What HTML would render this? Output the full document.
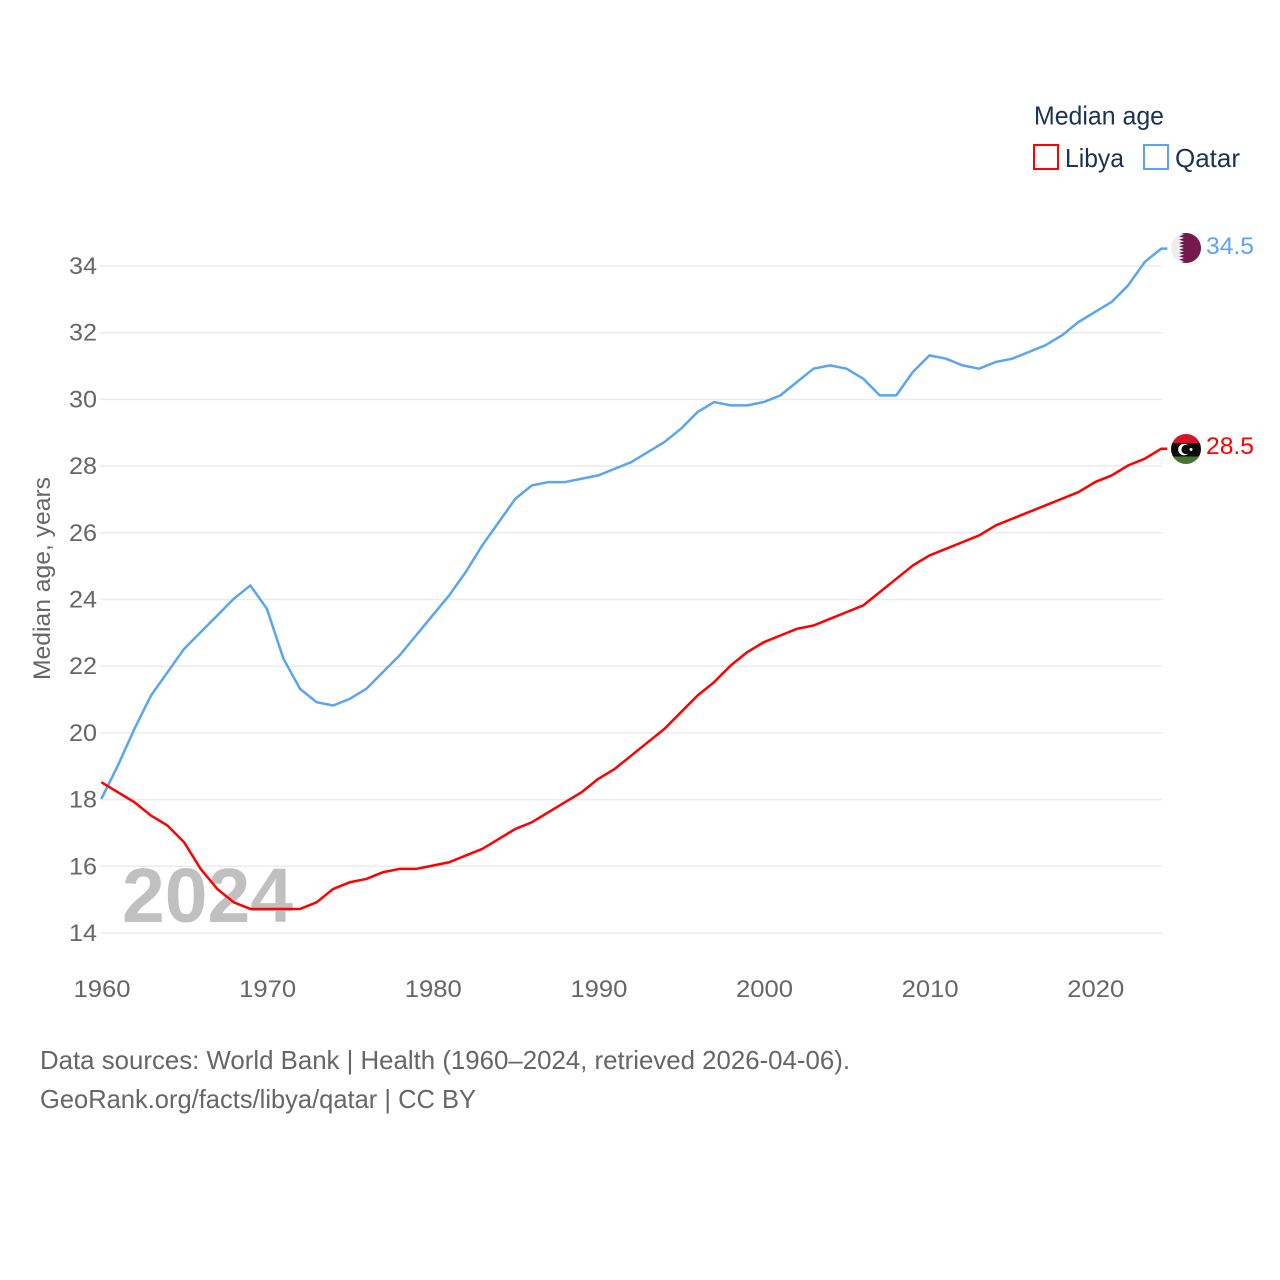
<!DOCTYPE html>
<html lang="en">
<head>
<meta charset="utf-8">
<title>Median age: Libya and Qatar</title>
<style>
html,body{margin:0;padding:0;background:#fff;}
svg{display:block;}
text{font-family:"Liberation Sans",sans-serif;}
</style>
</head>
<body>
<svg id="chart" xmlns="http://www.w3.org/2000/svg" width="1280" height="1280" viewBox="0 0 1280 1280">
  <rect width="1280" height="1280" fill="#fff"/>
  <g id="grid"></g>
  <text x="122" y="922" font-size="77" font-weight="bold" fill="#c0c0c0" textLength="171" lengthAdjust="spacingAndGlyphs">2024</text>
  <g id="yticks"></g>
  <g id="xticks"></g>
  <text transform="translate(50 680) rotate(-90)" font-size="24" fill="#666" textLength="203" lengthAdjust="spacingAndGlyphs">Median age, years</text>
  <g id="series" transform="translate(-0.7 -0.7)"></g>

  <defs>
    <clipPath id="flag-clip-qatar"><circle cx="1186" cy="248" r="15"/></clipPath>
    <clipPath id="flag-clip-libya"><circle cx="1186" cy="449" r="15"/></clipPath>
  </defs>
  <g clip-path="url(#flag-clip-qatar)">
    <rect x="1171" y="233" width="30" height="30" fill="#ededed"/>
    <polygon fill="#74184d" points="1201,233 1179,233 1184,234.700 1179,236.300 1184,238 1179,239.700 1184,241.300 1179,243 1184,244.700 1179,246.300 1184,248 1179,249.700 1184,251.300 1179,253 1184,254.700 1179,256.300 1184,258 1179,259.700 1184,261.300 1179,263 1201,263"/>
  </g>
  <g clip-path="url(#flag-clip-libya)">
    <rect x="1171" y="434" width="30" height="10" fill="#d6132a"/>
    <rect x="1171" y="443" width="30" height="13.500" fill="#0a0a0a"/>
    <rect x="1171" y="456.500" width="30" height="9" fill="#47752f"/>
    <circle cx="1184" cy="449.500" r="5.800" fill="#fff"/>
    <circle cx="1186" cy="449.500" r="4.600" fill="#0a0a0a"/>
    <circle cx="1191" cy="449.500" r="1.500" fill="#fff"/>
  </g>
  <text x="1206" y="254" font-size="24" fill="#5aa5ef" textLength="48" lengthAdjust="spacingAndGlyphs">34.5</text>
  <text x="1206" y="454" font-size="24" fill="#ff0000" textLength="48" lengthAdjust="spacingAndGlyphs">28.5</text>

  <g>
    <text x="1034" y="124.500" font-size="26" fill="#1a3354" textLength="130" lengthAdjust="spacingAndGlyphs">Median age</text>
    <rect x="1034" y="145" width="24" height="24" fill="#fff" stroke="#ff0000" stroke-width="2"/>
    <text x="1065" y="167" font-size="26" fill="#1a3354" textLength="59" lengthAdjust="spacingAndGlyphs">Libya</text>
    <rect x="1144" y="145" width="24" height="24" fill="#fff" stroke="#5aa5ef" stroke-width="2"/>
    <text x="1175" y="167" font-size="26" fill="#1a3354" textLength="65" lengthAdjust="spacingAndGlyphs">Qatar</text>
  </g>

  <g>
    <text x="40" y="1069" font-size="26" fill="#666" textLength="810" lengthAdjust="spacingAndGlyphs">Data sources: World Bank | Health (1960–2024, retrieved 2026-04-06).</text>
    <text x="40" y="1108" font-size="26" fill="#666" textLength="436" lengthAdjust="spacingAndGlyphs">GeoRank.org/facts/libya/qatar | CC BY</text>
  </g>
</svg>
<script>
const years = [1960,1961,1962,1963,1964,1965,1966,1967,1968,1969,1970,1971,1972,1973,1974,1975,1976,1977,1978,1979,1980,1981,1982,1983,1984,1985,1986,1987,1988,1989,1990,1991,1992,1993,1994,1995,1996,1997,1998,1999,2000,2001,2002,2003,2004,2005,2006,2007,2008,2009,2010,2011,2012,2013,2014,2015,2016,2017,2018,2019,2020,2021,2022,2023,2024];
const libyaValues = [18.5,18.2,17.9,17.5,17.2,16.7,15.9,15.3,14.9,14.7,14.7,14.7,14.7,14.9,15.3,15.5,15.6,15.8,15.9,15.9,16.0,16.1,16.3,16.5,16.8,17.1,17.3,17.6,17.9,18.2,18.6,18.9,19.3,19.7,20.1,20.6,21.1,21.5,22.0,22.4,22.7,22.9,23.1,23.2,23.4,23.6,23.8,24.2,24.6,25.0,25.3,25.5,25.7,25.9,26.2,26.4,26.6,26.8,27.0,27.2,27.5,27.7,28.0,28.2,28.5];
const qatarValues = [18.0,19.0,20.1,21.1,21.8,22.5,23.0,23.5,24.0,24.4,23.7,22.2,21.3,20.9,20.8,21.0,21.3,21.8,22.3,22.9,23.5,24.1,24.8,25.6,26.3,27.0,27.4,27.5,27.5,27.6,27.7,27.9,28.1,28.4,28.7,29.1,29.6,29.9,29.8,29.8,29.9,30.1,30.5,30.9,31.0,30.9,30.6,30.1,30.1,30.8,31.3,31.2,31.0,30.9,31.1,31.2,31.4,31.6,31.9,32.3,32.6,32.9,33.4,34.1,34.5];
const yTickValues = [14,16,18,20,22,24,26,28,30,32,34];
const xTickValues = [1960,1970,1980,1990,2000,2010,2020];

const SVG_NS = 'http://www.w3.org/2000/svg';
function xScale(year) { return 102 + (year - 1960) * (1162 - 102) / (2024 - 1960); }
function yScale(value) { return 933 - (value - 14) * (933 - 266) / (34 - 14); }
function make(tag, parent, props) {
  const el = document.createElementNS(SVG_NS, tag);
  for (const key in props) el.setAttribute(key, props[key]);
  parent.appendChild(el);
  return el;
}

const gridGroup = document.getElementById('grid');
const yTickGroup = document.getElementById('yticks');
const xTickGroup = document.getElementById('xticks');
const seriesGroup = document.getElementById('series');

yTickValues.forEach(function (value) {
  const line = make('line', gridGroup, { x1: 100, x2: 1162, y1: yScale(value), y2: yScale(value), stroke: '#ebebeb', 'stroke-width': 1.5 });
  
  
  const label = make('text', yTickGroup, { x: 97, y: yScale(value) + 8, 'text-anchor': 'end', 'font-size': 24, fill: '#666', textLength: 28, lengthAdjust: 'spacingAndGlyphs' });
  
  
  label.textContent = value;
});

xTickValues.forEach(function (year) {
  const label = make('text', xTickGroup, { x: xScale(year), y: 997, 'text-anchor': 'middle', 'font-size': 24, fill: '#666', textLength: 57, lengthAdjust: 'spacingAndGlyphs' });
  
  
  label.textContent = year;
});

function drawSeries(values, color, name) {
  const pts = years.map(function (year, i) { return xScale(year).toFixed(2) + ',' + yScale(values[i]).toFixed(2); });
  const lastY = yScale(values[values.length - 1]).toFixed(2);
  pts.push('1168,' + lastY);
  const line = make('polyline', seriesGroup, { points: pts.join(' '), fill: 'none', stroke: color, 'stroke-width': 2.5, 'stroke-linejoin': 'round' });
  
  
}
drawSeries(qatarValues, '#5aa5ef', 'qatar-line');
drawSeries(libyaValues, '#ff0000', 'libya-line');
</script>
</body>
</html>
